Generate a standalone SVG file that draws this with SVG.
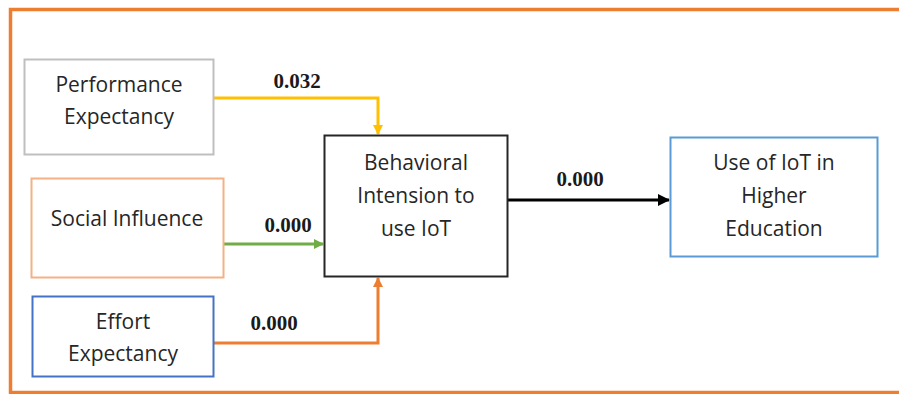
<svg xmlns="http://www.w3.org/2000/svg" width="899" height="394" viewBox="0 0 899 394">
<defs>
<style>
.t{font-family:"Open Sans","Liberation Sans",sans-serif;font-size:21px;fill:#262626;text-anchor:middle}
.l{font-family:"Liberation Serif","Times New Roman",serif;font-size:21px;font-weight:bold;fill:#1a1a1a;text-anchor:middle}
.c{fill:none;stroke-width:3}
</style>
<marker id="ay" markerWidth="10" markerHeight="10" refX="9" refY="5" orient="auto" markerUnits="userSpaceOnUse" viewBox="0 0 10 10"><path d="M0,0L10,5L0,10z" fill="#ffc000"/></marker>
<marker id="ag" markerWidth="10" markerHeight="10" refX="9" refY="5" orient="auto" markerUnits="userSpaceOnUse" viewBox="0 0 10 10"><path d="M0,0L10,5L0,10z" fill="#70ad47"/></marker>
<marker id="ao" markerWidth="10" markerHeight="10" refX="9" refY="5" orient="auto" markerUnits="userSpaceOnUse" viewBox="0 0 10 10"><path d="M0,0L10,5L0,10z" fill="#ed7d31"/></marker>
<marker id="ak" markerWidth="12" markerHeight="12" refX="11" refY="6" orient="auto" markerUnits="userSpaceOnUse" viewBox="0 0 12 12"><path d="M0,0L12,6L0,12z" fill="#000"/></marker>
</defs>
<rect width="899" height="394" fill="#fff"/>
<path d="M905,9.5H10.5V392.5H905" fill="none" stroke="#ed7d31" stroke-width="3.5"/>
<g id="connectors">
<path class="c" d="M213,98H378V134" stroke="#ffc000" marker-end="url(#ay)"/>
<path class="c" d="M223,244H323" stroke="#70ad47" marker-end="url(#ag)"/>
<path class="c" d="M213,343H378V278" stroke="#ed7d31" marker-end="url(#ao)"/>
<path class="c" d="M508,200H669" stroke="#000" marker-end="url(#ak)"/>
<text class="l" x="297" y="88">0.032</text>
<text class="l" x="288" y="232">0.000</text>
<text class="l" x="274" y="330">0.000</text>
<text class="l" x="580" y="186">0.000</text>
</g>
<g id="performance">
<rect x="24.5" y="59.5" width="189" height="95" fill="#fff" stroke="#bfbfbf" stroke-width="2"/>
<text class="t" x="119" y="92">Performance</text>
<text class="t" x="119" y="124">Expectancy</text>
</g>
<g id="social">
<rect x="31.5" y="178.5" width="192" height="99" fill="#fff" stroke="#f4b183" stroke-width="2"/>
<text class="t" x="127" y="226">Social Influence</text>
</g>
<g id="effort">
<rect x="32.5" y="296.5" width="181" height="80" fill="#fff" stroke="#4472c4" stroke-width="2"/>
<text class="t" x="123" y="329">Effort</text>
<text class="t" x="123" y="361">Expectancy</text>
</g>
<g id="behavioral">
<rect x="324.5" y="135.5" width="183" height="141" fill="#fff" stroke="#262626" stroke-width="2"/>
<text class="t" x="416" y="170">Behavioral</text>
<text class="t" x="416" y="203">Intension to</text>
<text class="t" x="416" y="236">use IoT</text>
</g>
<g id="use">
<rect x="670.5" y="137.5" width="207" height="119" fill="#fff" stroke="#5b9bd5" stroke-width="2"/>
<text class="t" x="774" y="170">Use of IoT in</text>
<text class="t" x="774" y="203">Higher</text>
<text class="t" x="774" y="236">Education</text>
</g>
</svg>
